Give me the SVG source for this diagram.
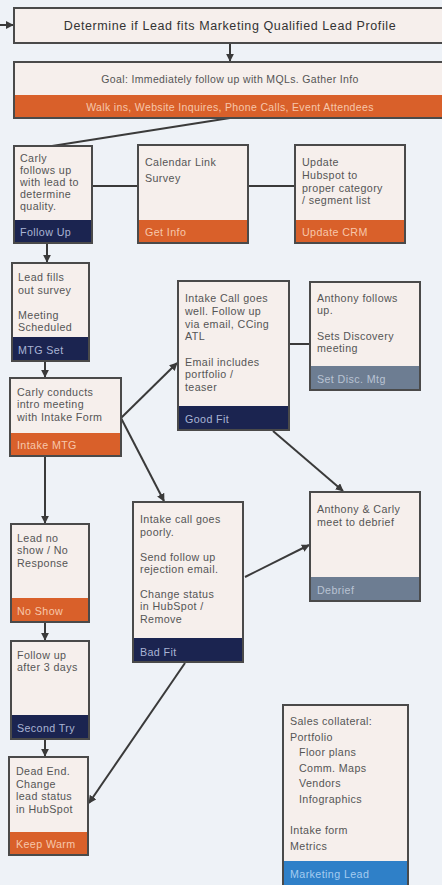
<svg xmlns="http://www.w3.org/2000/svg" width="442" height="885" viewBox="0 0 442 885">
<style>
.bg{fill:#eef2f7}
.box{fill:#f6efec;stroke:#4a4a4a;stroke-width:2}
.navy{fill:#1b2450}
.orange{fill:#d9602a}
.slate{fill:#6d7d92}
.blue{fill:#2f80c8}
text{font-family:"Liberation Sans",Arial,sans-serif;font-size:10.7px;letter-spacing:0.4px;fill:#555}
.t13{font-size:12.5px;letter-spacing:0.6px;fill:#333}
.t11{font-size:10.5px;letter-spacing:0.35px}
.bn{fill:#aab4d4}
.bo{fill:#f7c7aa}
.bs{fill:#b9c3d2}
.bb{fill:#a5ccf0}
.ln{stroke:#3a3a3a;stroke-width:2;fill:none}
</style>
<defs>
<marker id="ah" viewBox="0 0 10 10" refX="9" refY="5" markerWidth="4" markerHeight="4" orient="auto">
<path d="M0,0 L10,5 L0,10 z" fill="#3a3a3a"/>
</marker>
</defs>
<rect class="bg" x="0" y="0" width="442" height="885"/>

<g id="connectors">
<line class="ln" x1="0" y1="25" x2="13" y2="25" marker-end="url(#ah)"/>
<line class="ln" x1="230" y1="43" x2="230" y2="61" marker-end="url(#ah)"/>
<line class="ln" x1="230" y1="118" x2="52" y2="146"/>
<line class="ln" x1="92" y1="186" x2="138" y2="186"/>
<line class="ln" x1="248" y1="186" x2="295" y2="186"/>
<line class="ln" x1="47" y1="244" x2="47" y2="262" marker-end="url(#ah)"/>
<line class="ln" x1="45" y1="362" x2="45" y2="377" marker-end="url(#ah)"/>
<line class="ln" x1="121" y1="418" x2="177" y2="363" marker-end="url(#ah)"/>
<line class="ln" x1="121" y1="418" x2="164" y2="501" marker-end="url(#ah)"/>
<line class="ln" x1="273" y1="431" x2="343" y2="491" marker-end="url(#ah)"/>
<line class="ln" x1="289" y1="344" x2="310" y2="344"/>
<line class="ln" x1="245" y1="577" x2="309" y2="545" marker-end="url(#ah)"/>
<line class="ln" x1="45" y1="457" x2="45" y2="523" marker-end="url(#ah)"/>
<line class="ln" x1="45" y1="623" x2="45" y2="640" marker-end="url(#ah)"/>
<line class="ln" x1="45" y1="740" x2="45" y2="756" marker-end="url(#ah)"/>
<line class="ln" x1="185" y1="663" x2="89" y2="803" marker-end="url(#ah)"/>
</g>

<g id="mql-profile">
<rect class="box" x="14" y="8" width="440" height="35"/>
<text class="t13" x="230" y="30" text-anchor="middle">Determine if Lead fits Marketing Qualified Lead Profile</text>
</g>

<g id="goal">
<rect class="box" x="14" y="62" width="440" height="56"/>
<rect class="orange" x="15" y="95" width="438" height="22"/>
<text x="230" y="83" text-anchor="middle" class="t11">Goal: Immediately follow up with MQLs. Gather Info</text>
<text x="230" y="111" text-anchor="middle" class="t11 bo">Walk ins, Website Inquires, Phone Calls, Event Attendees</text>
</g>

<g id="follow-up">
<rect class="box" x="14" y="146" width="78" height="97"/>
<rect class="navy" x="15" y="220" width="76" height="22"/>
<text x="20" y="162">Carly</text>
<text x="20" y="174">follows up</text>
<text x="20" y="186">with lead to</text>
<text x="20" y="198">determine</text>
<text x="20" y="210">quality.</text>
<text x="20" y="236" class="bn">Follow Up</text>
</g>

<g id="get-info">
<rect class="box" x="138" y="145" width="110" height="98"/>
<rect class="orange" x="139" y="220" width="108" height="22"/>
<text x="145" y="166">Calendar Link</text>
<text x="145" y="182">Survey</text>
<text x="145" y="236" class="bo">Get Info</text>
</g>

<g id="update-crm">
<rect class="box" x="295" y="145" width="110" height="98"/>
<rect class="orange" x="296" y="220" width="108" height="22"/>
<text x="302" y="166">Update</text>
<text x="302" y="179">Hubspot to</text>
<text x="302" y="192">proper category</text>
<text x="302" y="204">/ segment list</text>
<text x="302" y="236" class="bo">Update CRM</text>
</g>

<g id="mtg-set">
<rect class="box" x="12" y="263" width="77" height="98"/>
<rect class="navy" x="13" y="337" width="75" height="23"/>
<text x="18" y="281">Lead fills</text>
<text x="18" y="294">out survey</text>
<text x="18" y="319">Meeting</text>
<text x="18" y="331">Scheduled</text>
<text x="18" y="354" class="bn">MTG Set</text>
</g>

<g id="intake-mtg">
<rect class="box" x="10" y="378" width="111" height="78"/>
<rect class="orange" x="11" y="433" width="109" height="22"/>
<text x="17" y="396">Carly conducts</text>
<text x="17" y="408">intro meeting</text>
<text x="17" y="421">with Intake Form</text>
<text x="17" y="449" class="bo">Intake MTG</text>
</g>

<g id="good-fit">
<rect class="box" x="178" y="281" width="111" height="149"/>
<rect class="navy" x="179" y="406" width="109" height="23"/>
<text x="185" y="302">Intake Call goes</text>
<text x="185" y="315">well. Follow up</text>
<text x="185" y="328">via email, CCing</text>
<text x="185" y="340">ATL</text>
<text x="185" y="366">Email includes</text>
<text x="185" y="378">portfolio /</text>
<text x="185" y="391">teaser</text>
<text x="185" y="423" class="bn">Good Fit</text>
</g>

<g id="set-disc-mtg">
<rect class="box" x="310" y="282" width="110" height="108"/>
<rect class="slate" x="311" y="366" width="108" height="23"/>
<text x="317" y="302">Anthony follows</text>
<text x="317" y="314">up.</text>
<text x="317" y="340">Sets Discovery</text>
<text x="317" y="352">meeting</text>
<text x="317" y="383" class="bs">Set Disc. Mtg</text>
</g>

<g id="debrief">
<rect class="box" x="310" y="492" width="110" height="109"/>
<rect class="slate" x="311" y="577" width="108" height="23"/>
<text x="317" y="513">Anthony &amp; Carly</text>
<text x="317" y="526">meet to debrief</text>
<text x="317" y="594" class="bs">Debrief</text>
</g>

<g id="bad-fit">
<rect class="box" x="133" y="502" width="110" height="160"/>
<rect class="navy" x="134" y="638" width="108" height="23"/>
<text x="140" y="523">Intake call goes</text>
<text x="140" y="536">poorly.</text>
<text x="140" y="561">Send follow up</text>
<text x="140" y="573">rejection email.</text>
<text x="140" y="598">Change status</text>
<text x="140" y="610">in HubSpot /</text>
<text x="140" y="623">Remove</text>
<text x="140" y="656" class="bn">Bad Fit</text>
</g>

<g id="no-show">
<rect class="box" x="11" y="524" width="78" height="98"/>
<rect class="orange" x="12" y="598" width="76" height="23"/>
<text x="17" y="542">Lead no</text>
<text x="17" y="554">show / No</text>
<text x="17" y="567">Response</text>
<text x="17" y="615" class="bo">No Show</text>
</g>

<g id="second-try">
<rect class="box" x="11" y="641" width="78" height="98"/>
<rect class="navy" x="12" y="715" width="76" height="23"/>
<text x="17" y="659">Follow up</text>
<text x="17" y="671">after 3 days</text>
<text x="17" y="732" class="bn">Second Try</text>
</g>

<g id="keep-warm">
<rect class="box" x="9" y="757" width="79" height="98"/>
<rect class="orange" x="10" y="832" width="77" height="22"/>
<text x="16" y="775">Dead End.</text>
<text x="16" y="788">Change</text>
<text x="16" y="800">lead status</text>
<text x="16" y="813">in HubSpot</text>
<text x="16" y="848" class="bo">Keep Warm</text>
</g>

<g id="marketing-lead">
<rect class="box" x="283" y="705" width="125" height="190"/>
<rect class="blue" x="284" y="861" width="123" height="24"/>
<text x="290" y="725">Sales collateral:</text>
<text x="290" y="741">Portfolio</text>
<text x="299" y="756">Floor plans</text>
<text x="299" y="772">Comm. Maps</text>
<text x="299" y="787">Vendors</text>
<text x="299" y="803">Infographics</text>
<text x="290" y="834">Intake form</text>
<text x="290" y="850">Metrics</text>
<text x="290" y="878" class="bb">Marketing Lead</text>
</g>
</svg>
